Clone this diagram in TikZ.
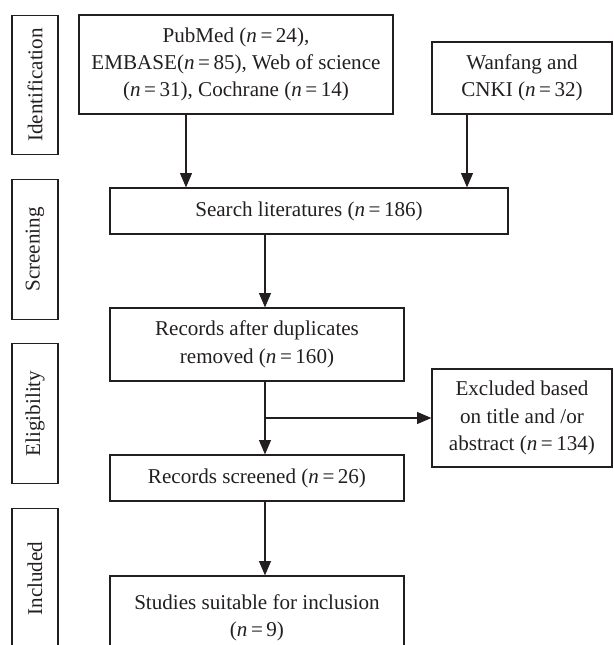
\documentclass[tikz,border=0pt]{standalone}
\usepackage{fontspec}
\setmainfont{Liberation Serif}
\usepackage{xcolor}
\usepackage{tikz}
\usetikzlibrary{arrows.meta, positioning, calc}
\definecolor{inkline}{RGB}{35, 31, 32}
\newcommand{\ncount}[1]{(\textit{n}\,=\,#1)}

\begin{document}
\begin{tikzpicture}[
    x=0.025cm, y=-0.025cm,
    font=\fontsize{15}{19.5}\selectfont,
    box/.style={rectangle, draw=inkline, line width=0.8pt, align=center, text=inkline, inner sep=2pt},
    stage/.style={box, rotate=90, minimum width=3.48cm, minimum height=1.15cm},
    arrowstyle/.style={-{Triangle[length=0.36cm, width=0.3cm]}, line width=0.8pt, draw=inkline}
]
\clip (0,0) rectangle (613,645);

% stage labels on the left
\node[stage] (ident) at (35,85) {Identification};
\node[stage] (screen) at (35,249.5) {Screening};
\node[stage] (elig) at (35,413.5) {Eligibility};
\node[stage] (incl) at (35,578.5) {Included};

% flow boxes
\node[box, minimum width=7.85cm, minimum height=2.475cm] (db) at (236,64.5) {PubMed \ncount{24},\\EMBASE\ncount{85}, Web of science\\\ncount{31}, Cochrane \ncount{14}};
\node[box, minimum width=4.5cm, minimum height=1.8cm] (cn) at (522,78) {Wanfang and\\CNKI \ncount{32}};
\node[box, minimum width=9.95cm, minimum height=1.15cm] (search) at (309,211) {Search literatures \ncount{186}};
\node[box, minimum width=7.35cm, minimum height=1.825cm] (dup) at (257,344.5) {Records after duplicates\\removed \ncount{160}};
\node[box, minimum width=4.5cm, minimum height=2.45cm] (excl) at (522,418) {Excluded based\\on title and /or\\abstract \ncount{134}};
\node[box, minimum width=7.35cm, minimum height=1.15cm] (scr) at (257,478) {Records screened \ncount{26}};
\node[box, minimum width=7.35cm, minimum height=2.1cm] (study) at (257,618) {Studies suitable for inclusion\\\ncount{9}};

% arrow columns
\coordinate (colA) at (186,0);
\coordinate (colB) at (467,0);
\coordinate (spine) at (265,0);

\draw[arrowstyle] (db.south -| colA) -- (search.north -| colA);
\draw[arrowstyle] (cn.south -| colB) -- (search.north -| colB);
\draw[arrowstyle] (search.south -| spine) -- (dup.north -| spine);
\draw[arrowstyle] (dup.south -| spine) -- (scr.north -| spine);
\draw[arrowstyle] (spine |- excl.west) -- (excl.west);
\draw[arrowstyle] (scr.south -| spine) -- (study.north -| spine);
\end{tikzpicture}
\end{document}
